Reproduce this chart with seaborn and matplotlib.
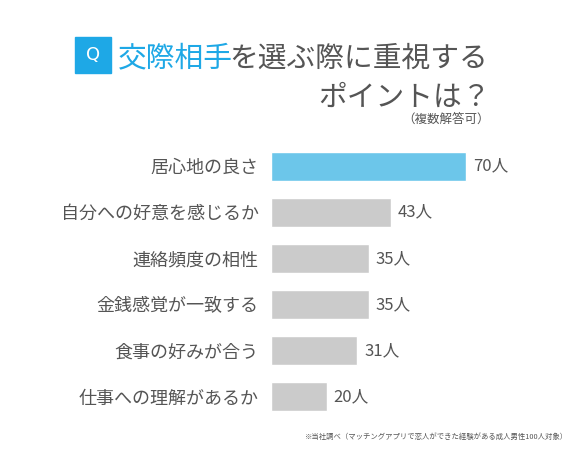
import seaborn as sns
import matplotlib.pyplot as plt
from matplotlib.patches import Rectangle

# ---------- DATA ---------- #
items = ["居心地の良さ", "自分への好意を感じるか", "連絡頻度の相性",
         "金銭感覚が一致する", "食事の好みが合う", "仕事への理解があるか"]
counts = [70, 43, 35, 35, 31, 20]
bar_colors = ["#6cc6ea", "#cbcbcb", "#cbcbcb", "#cbcbcb", "#cbcbcb", "#cbcbcb"]
# -------------------------- #

sns.set_theme(style="white")
plt.rcParams['font.family'] = ['Noto Sans CJK JP', 'DejaVu Sans']

text_gray = "#555555"
blue = "#1ea8e6"

fig = plt.figure(figsize=(5.69, 4.5), dpi=100)
ax = fig.add_axes([271 / 569, 1 - 420 / 450, 278.6 / 569, 277 / 450])

sns.barplot(x=counts, y=items, hue=items, palette=bar_colors, legend=False,
            width=0.63, ax=ax, saturation=1)

ax.set_xlim(0, 100)
ax.set_ylim(5.5, -0.5)
ax.set_xlabel("")
ax.set_ylabel("")
ax.set_xticks([])
for s in ax.spines.values():
    s.set_visible(False)
ax.tick_params(axis="y", length=0, pad=9, labelsize=13, labelcolor=text_gray)

for cont in ax.containers:
    ax.bar_label(cont, labels=[f"{int(b.get_width())}人" for b in cont],
                 padding=5, fontsize=12, color=text_gray)

# title block
fig.patches.append(Rectangle((75 / 569, 1 - 73 / 450), 36 / 569, 36 / 450,
                             transform=fig.transFigure, color=blue))
fig.text(93 / 569, 1 - 55 / 450, "Q", color="white", fontsize=13,
         ha="center", va="center", family="DejaVu Sans")
fig.text(118 / 569, 1 - 55 / 450, "交際相手", color=blue, fontsize=20.7,
         ha="left", va="center_baseline")
fig.text(229 / 569, 1 - 55 / 450, "を選ぶ際に重視する", color=text_gray, fontsize=20.7,
         ha="left", va="center_baseline")
fig.text(491 / 569, 1 - 94 / 450, "ポイントは？", color=text_gray, fontsize=20.7,
         ha="right", va="center_baseline")
fig.text(490 / 569, 1 - 119 / 450, "（複数解答可）", color=text_gray, fontsize=9,
         ha="right", va="center")

fig.text(568 / 569, 1 - 437 / 450,
         "※当社調べ（マッチングアプリで恋人ができた経験がある成人男性100人対象）",
         color=text_gray, fontsize=5.3, ha="right", va="center")

fig.savefig("out.png", dpi=100)
